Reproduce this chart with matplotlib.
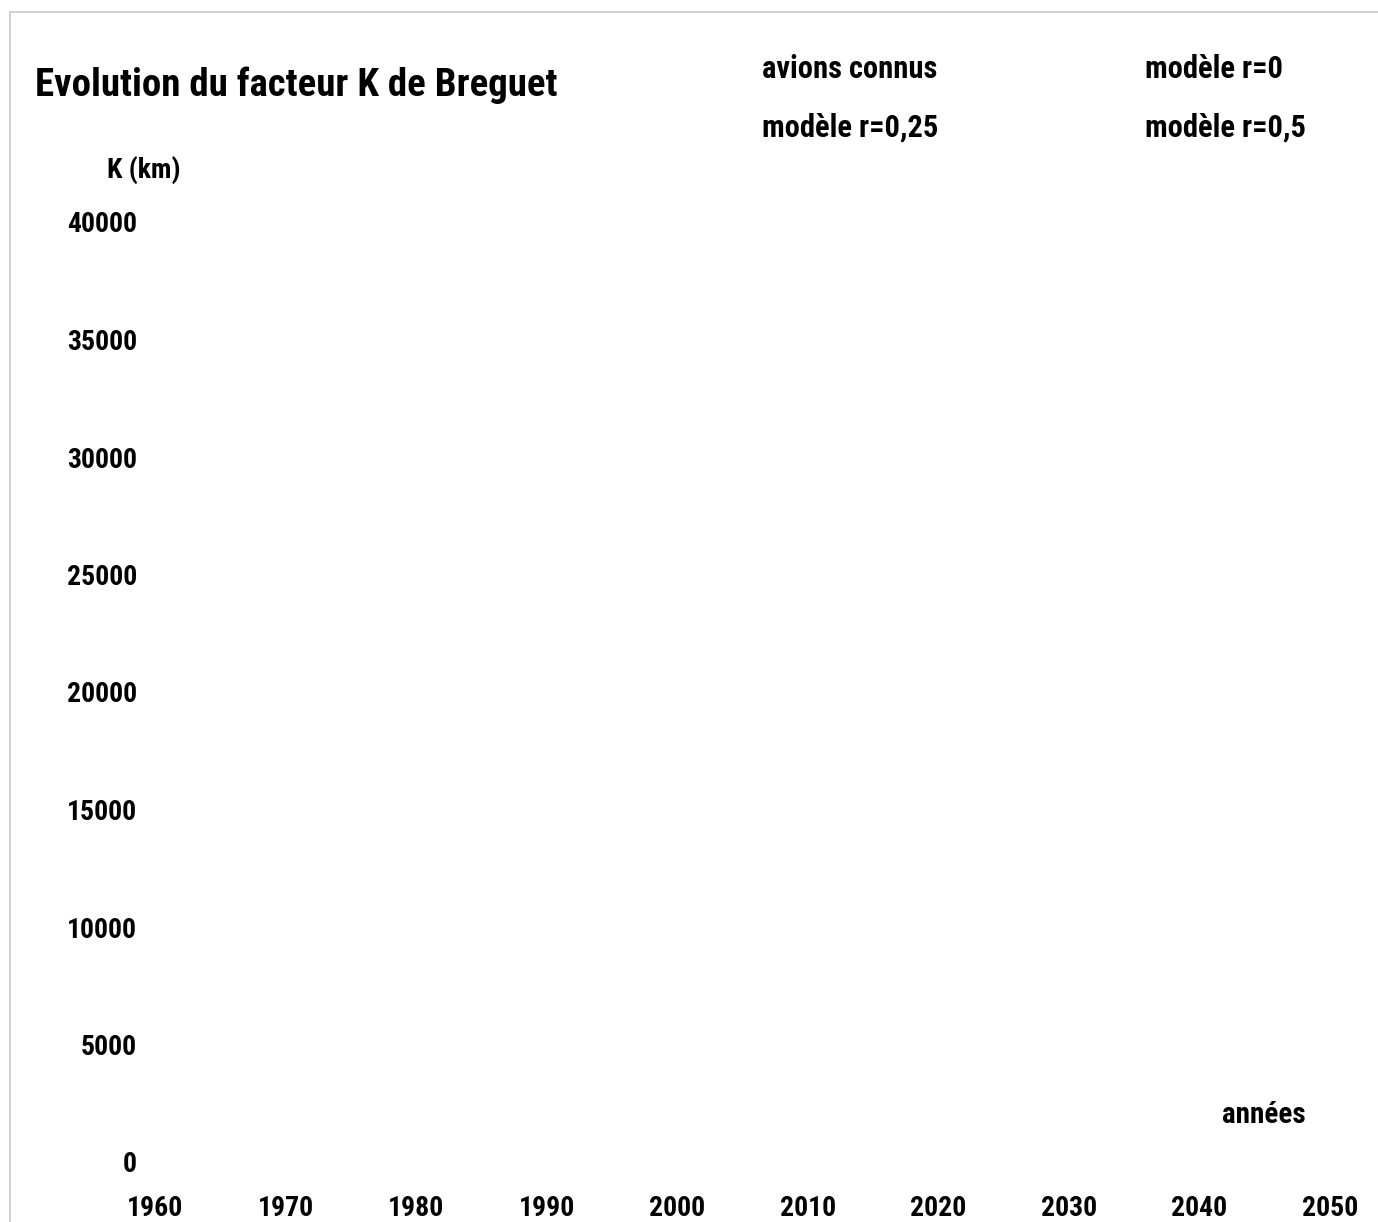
import matplotlib
matplotlib.use("Agg")
import matplotlib.pyplot as plt
from matplotlib.patches import Rectangle

plt.rcParams['font.family'] = ['Roboto Condensed', 'Liberation Sans', 'DejaVu Sans']
plt.rcParams['font.weight'] = 'bold'

# axis settings
x_ticks = [1960, 1970, 1980, 1990, 2000, 2010, 2020, 2030, 2040, 2050]
y_ticks = [0, 5000, 10000, 15000, 20000, 25000, 30000, 35000, 40000]

# the four series have no visible points in the reference
series_names = ['avions connus', 'modèle r=0', 'modèle r=0,25', 'modèle r=0,5']
years_known = []
k_known = []
years_r0 = []
k_r0 = []
years_r025 = []
k_r025 = []
years_r05 = []
k_r05 = []

W, H = 1378, 1222
fig = plt.figure(figsize=(W / 100, H / 100), dpi=100)
fig.patch.set_facecolor('white')

# thin grey page border (left and top visible)
fig.patches.append(Rectangle((10 / W, -0.1), 1.2, 1 - 12 / H + 0.1,
                             transform=fig.transFigure, fill=False,
                             edgecolor='#c8c8c8', linewidth=1.2))

ax = fig.add_axes([155 / W, 1 - 1162 / H, (1330 - 155) / W, (1162 - 222) / H])

h1, = ax.plot(years_known, k_known, linestyle='None', label=series_names[0])
h2, = ax.plot(years_r0, k_r0, linestyle='None', label=series_names[1])
h3, = ax.plot(years_r025, k_r025, linestyle='None', label=series_names[2])
h4, = ax.plot(years_r05, k_r05, linestyle='None', label=series_names[3])

ax.set_xlim(1960, 2050)
ax.set_ylim(0, 40000)
ax.set_xticks(x_ticks)
ax.set_yticks(y_ticks)
ax.tick_params(axis='both', length=0, labelsize=20)
ax.tick_params(axis='x', pad=24)
ax.tick_params(axis='y', pad=13)
for s in ax.spines.values():
    s.set_visible(False)

fig.text(35 / W, 1 - 85 / H, 'Evolution du facteur K de Breguet',
         fontsize=28, fontweight='bold', va='center', ha='left')
fig.text(144 / W, 1 - 170 / H, 'K (km)', fontsize=20, va='center', ha='center')
fig.text(1264 / W, 1 - 1115 / H, 'années', fontsize=21, va='center', ha='center')

leg = fig.legend(handles=[h1, h3, h2, h4],
                 labels=[series_names[0], series_names[2], series_names[1], series_names[3]],
                 ncol=2, loc='upper left', bbox_to_anchor=(762 / W, 1 - 54 / H),
                 frameon=False, fontsize=22, handlelength=0, handletextpad=0,
                 columnspacing=6.75, labelspacing=0.94, borderpad=0, borderaxespad=0)

fig.savefig('out.png', dpi=100, facecolor='white')
